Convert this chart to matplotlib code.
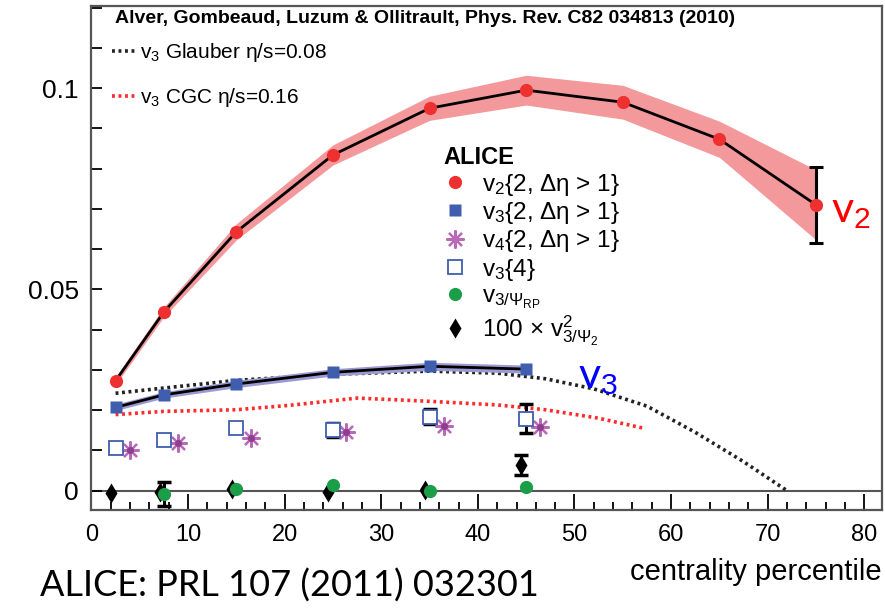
import matplotlib
matplotlib.use("Agg")
import matplotlib.pyplot as plt
from matplotlib.lines import Line2D
from matplotlib.ticker import MultipleLocator, FixedLocator

plt.rcParams['font.family'] = ['Liberation Sans', 'DejaVu Sans']
plt.rcParams['mathtext.fontset'] = 'custom'
plt.rcParams['mathtext.rm'] = 'Liberation Sans'
plt.rcParams['mathtext.it'] = 'Liberation Sans:italic'
plt.rcParams['mathtext.bf'] = 'Liberation Sans:bold'

# ALICE v2{2, |deta|>1}
cent_v2 = [2.5, 7.5, 15, 25, 35, 45, 55, 65, 75]
v2 = [0.0273, 0.0444, 0.0643, 0.0834, 0.0950, 0.0995, 0.0965, 0.0873, 0.0710]
v2_sys = [0.0010, 0.0012, 0.0020, 0.0025, 0.0030, 0.0037, 0.0042, 0.0045, 0.0087]
v2_stat = [0, 0, 0, 0, 0, 0, 0, 0, 0.0095]

# ALICE v3{2, |deta|>1}
cent_v3 = [2.5, 7.5, 15, 25, 35, 45]
v3 = [0.0207, 0.0238, 0.0265, 0.0294, 0.0309, 0.0302]
v3_sys = [0.0008, 0.0008, 0.0009, 0.0009, 0.0010, 0.0010]

# ALICE v4{2, |deta|>1}, shifted in centrality for visibility
cent_v4 = [4.0, 9.0, 16.5, 26.4, 36.5, 46.4]
v4 = [0.0100, 0.0118, 0.0131, 0.0146, 0.0161, 0.0157]

# ALICE v3{4}
cent_v34 = [2.5, 7.5, 15, 25, 35, 45]
v3_4 = [0.0106, 0.0127, 0.0156, 0.0151, 0.0184, 0.0179]
v3_4_err = [0, 0, 0, 0.0018, 0.0018, 0.0036]

# v3 w.r.t. reaction plane
cent_rp = [7.5, 15, 25, 35, 45]
v3_rp = [-0.0008, 0.0005, 0.0013, -0.0002, 0.0008]
v3_rp_err = [0.0029, 0, 0, 0, 0]

# 100 x v3^2 w.r.t. Psi_2
cent_psi2 = [2.0, 7.1, 14.6, 24.5, 34.5, 44.5]
v3_psi2 = [-0.0006, -0.0004, 0.0005, -0.0004, 0.0002, 0.0063]
v3_psi2_err = [0, 0, 0, 0, 0, 0.0025]

# Hydro predictions (Alver et al.)
cent_glauber = [2.5, 7.5, 15, 25, 35, 42, 47, 52, 57.5, 62.5, 67.5, 72]
v3_glauber = [0.0242, 0.0255, 0.0274, 0.0289, 0.0297, 0.0292, 0.0278, 0.0253,
              0.0210, 0.0145, 0.0072, 0.0]
cent_cgc = [2.5, 7.5, 15, 20.5, 27.5, 35, 42, 47, 52.5, 57]
v3_cgc = [0.0189, 0.0197, 0.0201, 0.0212, 0.0230, 0.0222, 0.0213, 0.0201,
          0.0180, 0.0156]

red = '#ee3030'
blue = '#3f5fae'
green = '#1a9e48'
purple = '#b86ab8'
frame = '#555555'

fig = plt.figure(figsize=(8.85, 6.08), dpi=100)
ax = fig.add_axes([0.1033, 0.1612, 0.893, 0.8289])
ax.set_xlim(0, 81.8)
ax.set_ylim(-0.0048, 0.1204)
ax.axhline(0, color=frame, lw=1.5, zorder=1)

# model curves
dots = (0, (0.8, 1.0))
ax.plot(cent_glauber, v3_glauber, color='#222222', lw=2.6, ls=dots, zorder=2)
ax.plot(cent_cgc, v3_cgc, color='#ff2a2a', lw=2.6, ls=dots, zorder=2)

# v2 band + line
lo = [v - s for v, s in zip(v2, v2_sys)]
hi = [v + s for v, s in zip(v2, v2_sys)]
ax.fill_between(cent_v2, lo, hi, color='#f4999b', lw=0, zorder=2)
ax.plot(cent_v2, v2, color='k', lw=2, zorder=3)
sel = [i for i, e in enumerate(v2_stat) if e > 0]
ax.errorbar([cent_v2[i] for i in sel], [v2[i] for i in sel],
            yerr=[v2_stat[i] for i in sel], fmt='none', ecolor='k',
            elinewidth=2.2, capsize=5, capthick=2.2, zorder=4)
ax.plot(cent_v2, v2, 'o', color=red, ms=9.5, mec='none', zorder=5)

# v3 band + line
lo = [v - s for v, s in zip(v3, v3_sys)]
hi = [v + s for v, s in zip(v3, v3_sys)]
ax.fill_between(cent_v3, lo, hi, color='#9c9ad2', lw=0, zorder=2)
ax.plot(cent_v3, v3, color='k', lw=2, zorder=3)
ax.plot(cent_v3, v3, 's', color=blue, ms=9, mec='none', zorder=5)

# v4{2}
ax.plot(cent_v4, v4, ls='none', marker=(8, 2, 0), color=purple, ms=13, mew=1.6, zorder=5)
ax.plot(cent_v4, v4, ls='none', marker='o', color='#8e3e8e', ms=5, mec='none', zorder=6)

# v3{4}
sel = [i for i, e in enumerate(v3_4_err) if e > 0]
ax.errorbar([cent_v34[i] for i in sel], [v3_4[i] for i in sel],
            yerr=[v3_4_err[i] for i in sel], fmt='none', ecolor='k',
            elinewidth=2.2, capsize=5, capthick=2.5, zorder=4)
ax.plot(cent_v34, v3_4, 's', mfc='white', mec=blue, mew=1.3, ms=10, zorder=5)

# 100 x v3^2/Psi2
sel = [i for i, e in enumerate(v3_psi2_err) if e > 0]
ax.errorbar([cent_psi2[i] for i in sel], [v3_psi2[i] for i in sel],
            yerr=[v3_psi2_err[i] for i in sel], fmt='none', ecolor='k',
            elinewidth=2.2, capsize=5, capthick=2.5, zorder=4)
ax.plot(cent_psi2, v3_psi2, 'd', color='k', ms=10, mec='none', zorder=5)

# v3/Psi_RP
sel = [i for i, e in enumerate(v3_rp_err) if e > 0]
ax.errorbar([cent_rp[i] for i in sel], [v3_rp[i] for i in sel],
            yerr=[v3_rp_err[i] for i in sel], fmt='none', ecolor='k',
            elinewidth=2.2, capsize=5, capthick=2.5, zorder=4)
ax.plot(cent_rp, v3_rp, 'o', color=green, ms=9.5, mec='none', zorder=6)

# axes styling
for sp in ax.spines.values():
    sp.set_color(frame)
    sp.set_linewidth(1.6)
ax.xaxis.set_major_locator(MultipleLocator(10))
ax.xaxis.set_minor_locator(MultipleLocator(2))
ax.yaxis.set_major_locator(FixedLocator([0, 0.05, 0.1]))
ax.yaxis.set_minor_locator(MultipleLocator(0.01))
ax.set_yticklabels(['0', '0.05', '0.1'])
ax.tick_params(axis='x', which='major', direction='in', length=11.5, width=1.3,
               color='k', labelsize=17, pad=10)
ax.tick_params(axis='x', which='minor', direction='in', length=5.8, width=1.3, color='k')
ax.tick_params(axis='y', which='both', direction='in', length=8, width=1.3,
               color='k', labelsize=19, pad=9)
ax.set_xlabel('centrality percentile', fontsize=21, loc='right', labelpad=9)

# header and model legend
ax.text(0.030, 0.976, 'Alver, Gombeaud, Luzum & Ollitrault, Phys. Rev. C82 034813 (2010)',
        transform=ax.transAxes, fontsize=14, fontweight='bold', ha='left', va='center')
model_handles = [
    Line2D([], [], color='#222222', lw=2.6, ls=dots),
    Line2D([], [], color='#ff2a2a', lw=2.6, ls=dots),
]
leg1 = ax.legend(model_handles,
                 [r'v$_3$ Glauber η/s=0.08', r'v$_3$ CGC η/s=0.16'],
                 loc='upper left', bbox_to_anchor=(0.026, 0.93), frameon=False,
                 fontsize=15, handlelength=1.1, handletextpad=0.25,
                 labelspacing=1.05, borderaxespad=0, borderpad=0)
ax.add_artist(leg1)

# ALICE legend
alice_handles = [
    Line2D([], [], ls='none', marker='o', color=red, ms=9.5, mec='none'),
    Line2D([], [], ls='none', marker='s', color=blue, ms=9, mec='none'),
    Line2D([], [], ls='none', marker=(8, 2, 0), color=purple, ms=13, mew=1.6),
    Line2D([], [], ls='none', marker='s', mfc='white', mec=blue, mew=1.3, ms=10),
    Line2D([], [], ls='none', marker='o', color=green, ms=9.5, mec='none'),
    Line2D([], [], ls='none', marker='d', color='k', ms=10, mec='none'),
]
alice_labels = [
    r'v$_2${2, Δη > 1}',
    r'v$_3${2, Δη > 1}',
    r'v$_4${2, Δη > 1}',
    r'v$_3${4}',
    r'v$_{3/\Psi_{\rm RP}}$',
    r'100 $\times$ v$^2_{3/\Psi_2}$',
]
leg2 = ax.legend(alice_handles, alice_labels, loc='upper left',
                 bbox_to_anchor=(0.445, 0.722), frameon=False, fontsize=17.5,
                 title='ALICE', title_fontproperties={'weight': 'bold', 'size': 17},
                 alignment='left', handlelength=1.0, handletextpad=0.6,
                 labelspacing=0.1, borderaxespad=0, borderpad=0)

# big harmonic labels
ax.text(76.5, 0.0693, r'v$_2$', color='#ff0000', fontsize=31, family='Lato',
        ha='left', va='center')
ax.text(50.4, 0.0281, r'v$_3$', color='#0000ff', fontsize=31, family='Lato',
        ha='left', va='center')

fig.text(0.045, 0.018, 'ALICE: PRL 107 (2011) 032301', fontsize=26, family='Lato',
         ha='left', va='baseline')

fig.savefig('out.png', dpi=100)
